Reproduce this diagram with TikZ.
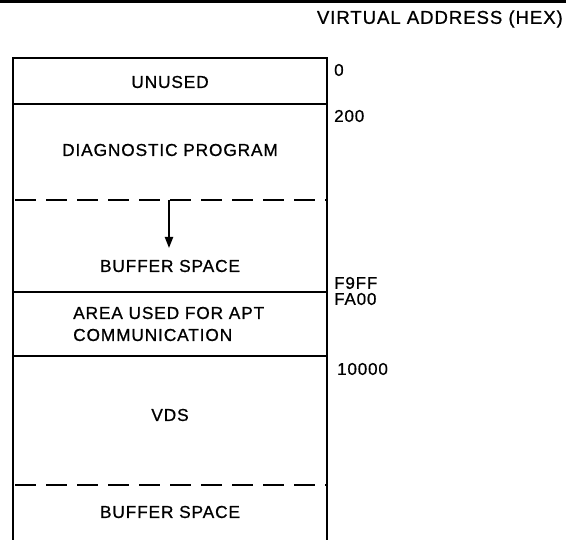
\documentclass[tikz,border=0pt]{standalone}
\usepackage{fontspec}
\setmainfont[LetterSpace=5,FakeBold=0.8]{Liberation Sans}
\usetikzlibrary{arrows.meta}
\begin{document}
\begin{tikzpicture}[x=1pt,y=-1pt,
  frame/.style={line width=2.8pt},
  divider/.style={line width=2.2pt},
  dashdiv/.style={line width=2.2pt,dash pattern=on 21pt off 10pt},
  lbl/.style={font=\fontsize{17.3}{22}\selectfont,inner sep=0pt},
  addr/.style={font=\fontsize{17}{20}\selectfont,inner sep=0pt,anchor=west}]
\useasboundingbox (0,0) rectangle (566,540);
% rule across the top of the page
\draw[line width=3pt] (0,1.5) -- (566,1.5);
% corners of the memory column
\coordinate (tl) at (13,58);
\coordinate (tr) at (327,58);
\coordinate (bl) at (13,540);
\coordinate (br) at (327,540);
\draw[frame] (bl) -- (tl) -- (tr) -- (br);
% region boundaries
\draw[divider] (13,104) -- (327,104);
\draw[dashdiv] (15,200) -- (327,200);
\draw[divider] (13,292) -- (327,292);
\draw[divider] (13,356) -- (327,356);
\draw[dashdiv] (15,485) -- (327,485);
% region labels
\node[lbl] (unused) at (170,82) {UNUSED};
\node[lbl] (diag) at (170,150) {DIAGNOSTIC PROGRAM};
\node[lbl] (buf1) at (170,266) {BUFFER SPACE};
\node[lbl,align=left,anchor=west] (apt) at (73,324) {AREA USED FOR APT\\COMMUNICATION};
\node[lbl] (vds) at (170,415) {VDS};
\node[lbl] (buf2) at (170,512) {BUFFER SPACE};
% growth direction of the buffer
\coordinate (arrtop) at (169,200);
\coordinate (arrend) at (169,248);
\draw[line width=2pt,-{Triangle[length=11pt,width=8pt]}] (arrtop) -- (arrend);
% address column
\node[lbl,anchor=east,font=\fontsize{18.6}{22}\selectfont] (title) at (563,19) {VIRTUAL ADDRESS (HEX)};
\node[addr] (a0) at (334,70) {0};
\node[addr] (a200) at (334,116) {200};
\node[addr] (af9ff) at (334,283) {F9FF};
\node[addr] (afa00) at (334,299) {FA00};
\node[addr] (a10000) at (337,369) {10000};
\end{tikzpicture}
\end{document}
